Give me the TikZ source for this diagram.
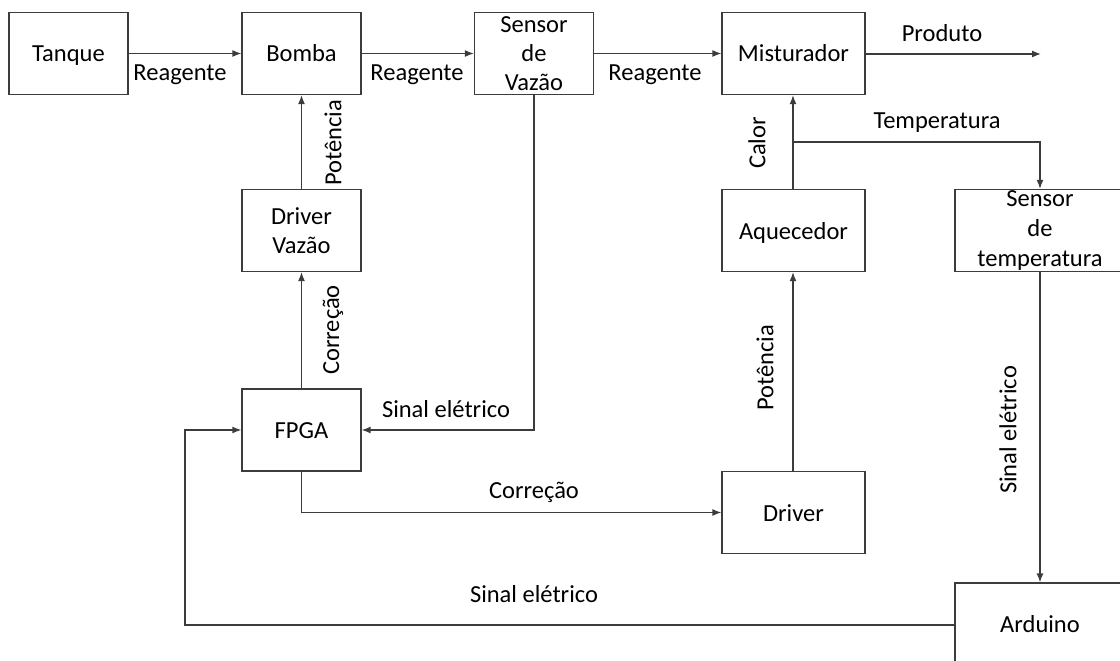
\documentclass[tikz,border=0pt]{standalone}
\usepackage{fontspec}
\setmainfont{Carlito}
\usetikzlibrary{arrows.meta}
\definecolor{linec}{RGB}{60,60,60}
\begin{document}
\begin{tikzpicture}[x=1pt,y=-1pt,
  txt/.style={font=\fontsize{24.5}{29}\selectfont},
  box/.style={draw=linec, line width=1.3pt, fill=white, inner sep=0pt,
              align=center, txt},
  one/.style={text height=21.5pt, text depth=4.5pt},
  small/.style={box, minimum width=119pt, minimum height=82pt},
  wide/.style={box, minimum width=143pt, minimum height=82pt},
  lbl/.style={txt, inner sep=0pt},
  conn/.style={draw=linec, line width=1.3pt,
               -{Latex[length=9pt,width=7pt]}}]
  \useasboundingbox (0,0) rectangle (1120,661);
  \clip (0,0) rectangle (1120,661);

  % blocks
  \node[small, one] (tanque) at (68.5,53.5) {Tanque};
  \node[small, one] (bomba) at (301.5,53.5) {Bomba};
  \node[small] (sensorv) at (534,53.5) {Sensor\\de\\Vazão};
  \node[wide, one] (mist) at (793.5,53.5) {Misturador};
  \node[small] (drvv) at (301.5,230.5) {Driver\\Vazão};
  \node[wide, one] (aquec) at (793.5,230.5) {Aquecedor};
  \node[box, minimum width=170pt, minimum height=82pt, font=\fontsize{24.5}{30}\selectfont]
    (sensort) at (1040,230.5) {Sensor\\de\\temperatura};
  \node[small, one] (fpga) at (301.5,430) {FPGA};
  \node[wide, one] (driver) at (793.5,512.5) {Driver};
  \node[box, one, minimum width=170pt, minimum height=82pt] (arduino) at (1040,624) {Arduino};

  % junction and free ends
  \coordinate (tj) at (793,142);
  \coordinate (prod) at (1041,54);
  \coordinate (lc) at (185,625);

  % reagent line
  \draw[conn] (tanque) -- (bomba);
  \draw[conn] (bomba) -- (sensorv);
  \draw[conn] (sensorv) -- (mist);
  \draw[conn] (mist.east |- prod) -- (prod);

  % flow control loop
  \draw[conn] (drvv) -- (bomba);
  \draw[conn] (fpga) -- (drvv);
  \draw[conn] (sensorv.south) |- (fpga.east);
  \draw[conn] (fpga.south) |- (driver.west);

  % heating loop
  \draw[conn] (driver.north -| tj) -- (aquec.south -| tj);
  \draw[conn] (aquec.north -| tj) -- (mist.south -| tj);
  \draw[conn] (tj) -| (sensort.north);
  \draw[conn] (sensort) -- (arduino);
  \draw[conn] (arduino.west |- lc) -- (lc) |- (fpga.west);

  % labels
  \node[lbl] at (180,75) {Reagente};
  \node[lbl] at (417,75) {Reagente};
  \node[lbl] at (655,75) {Reagente};
  \node[lbl] at (942,33) {Produto};
  \node[lbl] at (937,123) {Temperatura};
  \node[lbl, rotate=90] at (333,143) {Potência};
  \node[lbl, rotate=90] at (333,330) {Correção};
  \node[lbl, rotate=90] at (757,143) {Calor};
  \node[lbl, rotate=90] at (765,368) {Potência};
  \node[lbl, rotate=90] at (1008,430) {Sinal elétrico};
  \node[lbl] at (446,409) {Sinal elétrico};
  \node[lbl] at (534,492) {Correção};
  \node[lbl] at (534,594) {Sinal elétrico};
\end{tikzpicture}
\end{document}
